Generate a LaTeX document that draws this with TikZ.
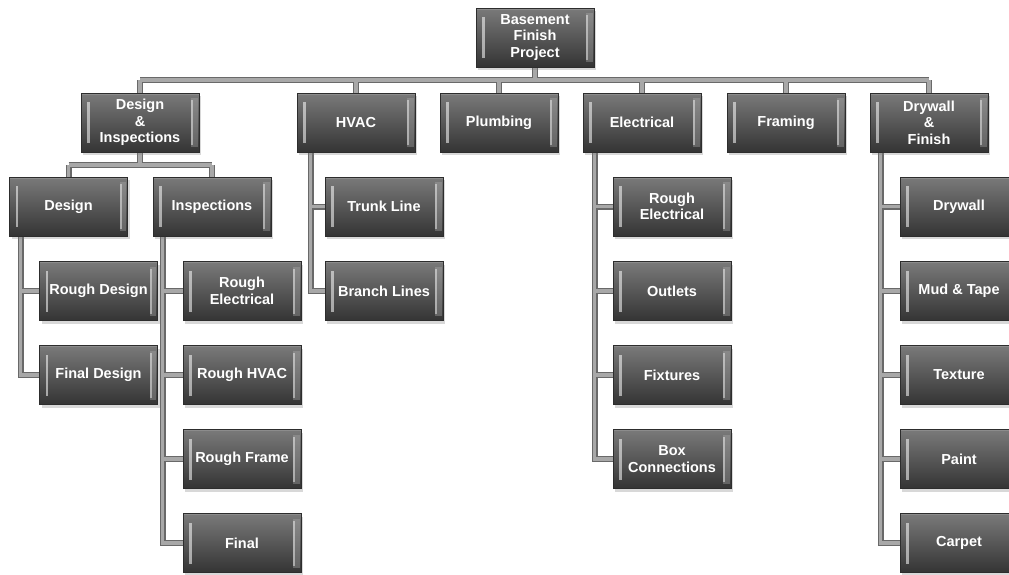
\documentclass[tikz,border=0pt]{standalone}
\usepackage{fontspec}
\setmainfont{Liberation Sans}
\usetikzlibrary{shadows,backgrounds}
\definecolor{boxtop}{RGB}{122,122,122}
\definecolor{boxbot}{RGB}{52,52,52}
\definecolor{boxedge}{RGB}{45,45,45}
\definecolor{connin}{RGB}{168,168,168}
\definecolor{connout}{RGB}{105,105,105}
\begin{document}
\begin{tikzpicture}[x=1pt,y=-1pt,
  box/.style={rectangle, minimum width=118pt, minimum height=59pt, inner sep=0pt,
    top color=boxtop, bottom color=boxbot, draw=boxedge, line width=0.6pt,
    drop shadow={opacity=0.3, shadow xshift=2pt, shadow yshift=-3pt},
    text=white, align=center, font=\bfseries\fontsize{14.5}{16.5}\selectfont,
    path picture={
      \fill[white,opacity=0.55] ([xshift=6pt,yshift=-9pt]path picture bounding box.north west)
        rectangle ([xshift=8.5pt,yshift=9pt]path picture bounding box.south west);
      \fill[gray!60,opacity=0.35] ([xshift=-8pt,yshift=-5pt]path picture bounding box.north east)
        rectangle ([xshift=-1.5pt,yshift=5pt]path picture bounding box.south east);
      \fill[white,opacity=0.45] ([xshift=-8pt,yshift=-7pt]path picture bounding box.north east)
        rectangle ([xshift=-6pt,yshift=7pt]path picture bounding box.south east);
      \fill[white,opacity=0.15] ([yshift=-1.5pt]path picture bounding box.north west)
        rectangle (path picture bounding box.north east);
    }},
  conn/.style={draw=connin, line width=3.4pt, preaction={draw=connout, line width=6pt}}]
\useasboundingbox (0,0) rectangle (1009,574);

% top
\node[box] (top) at (535,37.5) {Basement\\Finish\\Project};
% level 1
\node[box] (di) at (140,122.5) {Design\\\&\\Inspections};
\node[box] (hvac) at (356,122.5) {HVAC};
\node[box] (plumb) at (499,122.5) {Plumbing};
\node[box] (elec) at (642,122.5) {Electrical};
\node[box] (fram) at (786,122.5) {Framing};
\node[box] (dwf) at (929,122.5) {Drywall\\\&\\Finish};
% level 2
\node[box] (design) at (68.5,206.5) {Design};
\node[box] (insp) at (212,206.5) {Inspections};
\node[box] (trunk) at (384,206.5) {Trunk Line};
\node[box] (rel) at (672,206.5) {Rough\\Electrical};
\node[box] (dry) at (959,206.5) {Drywall};
% level 3
\node[box] (rd) at (98.5,291) {Rough Design};
\node[box] (ire) at (242,291) {Rough\\Electrical};
\node[box] (branch) at (384,291) {Branch Lines};
\node[box] (outl) at (672,291) {Outlets};
\node[box] (mud) at (959,291) {Mud \& Tape};
% level 4
\node[box] (fd) at (98.5,375) {Final Design};
\node[box] (ihv) at (242,375) {Rough HVAC};
\node[box] (fix) at (672,375) {Fixtures};
\node[box] (tex) at (959,375) {Texture};
% level 5
\node[box] (ifr) at (242,459) {Rough Frame};
\node[box] (boxc) at (672,459) {Box\\Connections};
\node[box] (paint) at (959,459) {Paint};
% level 6
\node[box] (ifin) at (242,543) {Final};
\node[box] (carpet) at (959,543) {Carpet};

\coordinate (busL) at (140,80);
\coordinate (busR) at (929,80);
\coordinate (diy) at (0,165);

\begin{scope}[on background layer]
\fill[white] (0,0) rectangle (1009,574);
\draw[conn]
  (top.south) -- (top.south |- busL)
  (busL) -- (busR)
  (di.north |- busL) -- (di.north)
  (hvac.north |- busL) -- (hvac.north)
  (plumb.north |- busL) -- (plumb.north)
  (elec.north |- busL) -- (elec.north)
  (fram.north |- busL) -- (fram.north)
  (dwf.north |- busL) -- (dwf.north)
  (di.south) -- (di.south |- diy)
  (design.north |- diy) -- (insp.north |- diy)
  (design.north |- diy) -- (design.north)
  (insp.north |- diy) -- (insp.north)
  ([xshift=11.5pt]design.south west) |- (rd.west)
  ([xshift=11.5pt]design.south west) |- (fd.west)
  ([xshift=10pt]insp.south west) |- (ire.west)
  ([xshift=10pt]insp.south west) |- (ihv.west)
  ([xshift=10pt]insp.south west) |- (ifr.west)
  ([xshift=10pt]insp.south west) |- (ifin.west)
  ([xshift=14pt]hvac.south west) |- (trunk.west)
  ([xshift=14pt]hvac.south west) |- (branch.west)
  ([xshift=12pt]elec.south west) |- (rel.west)
  ([xshift=12pt]elec.south west) |- (outl.west)
  ([xshift=12pt]elec.south west) |- (fix.west)
  ([xshift=12pt]elec.south west) |- (boxc.west)
  ([xshift=11pt]dwf.south west) |- (dry.west)
  ([xshift=11pt]dwf.south west) |- (mud.west)
  ([xshift=11pt]dwf.south west) |- (tex.west)
  ([xshift=11pt]dwf.south west) |- (paint.west)
  ([xshift=11pt]dwf.south west) |- (carpet.west);
\end{scope}
\end{tikzpicture}
\end{document}
